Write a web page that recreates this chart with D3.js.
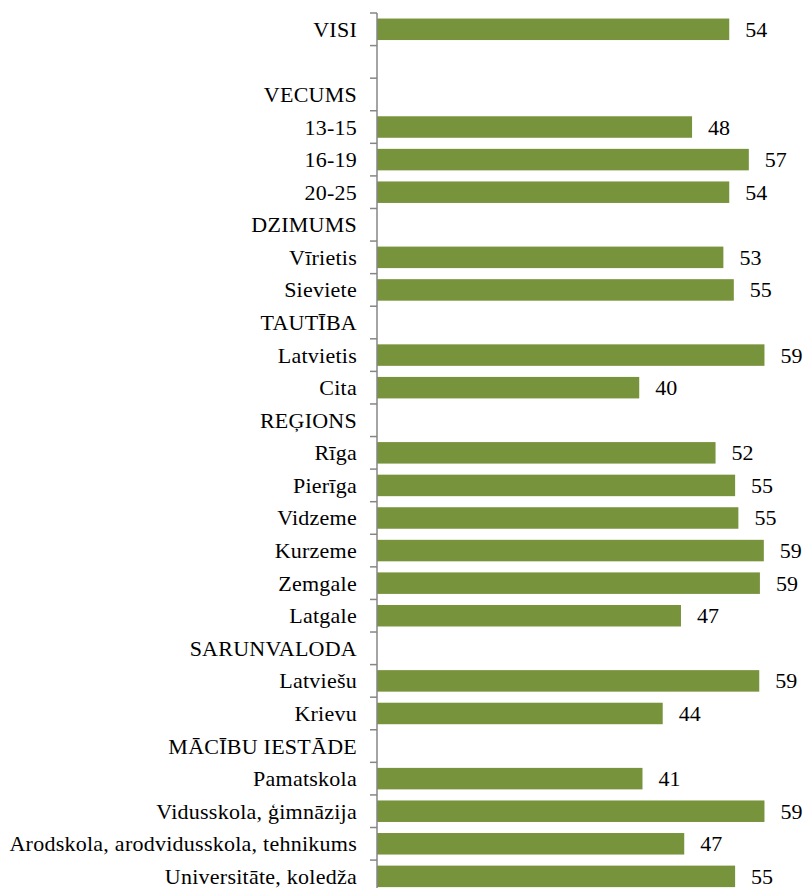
<!DOCTYPE html>
<html><head><meta charset="utf-8">
<script src="https://cdn.jsdelivr.net/npm/d3@7"></script>
<style>body{margin:0;background:#fff}svg{display:block}</style>
</head><body>
<script>
const categories = ["VISI","","VECUMS","13-15","16-19","20-25","DZIMUMS","Vīrietis","Sieviete","TAUTĪBA","Latvietis","Cita","REĢIONS","Rīga","Pierīga","Vidzeme","Kurzeme","Zemgale","Latgale","SARUNVALODA","Latviešu","Krievu","MĀCĪBU IESTĀDE","Pamatskola","Vidusskola, ģimnāzija","Arodskola, arodvidusskola, tehnikums","Universitāte, koledža"];
const values = [54.0,null,null,48.3,57.0,54.0,null,53.1,54.7,null,59.4,40.2,null,51.9,54.9,55.4,59.3,58.7,46.6,null,58.6,43.8,null,40.7,59.4,47.1,54.9];
const xMax = 65;

const W = 806, H = 888;
const margin = {left: 377, right: 5, top: 13};
const step = 32.58;
const plotBottom = margin.top + step * categories.length;

const svg = d3.select("body").append("svg").attr("width", W).attr("height", H);
const font = "'Liberation Serif', serif";
const fs = 22;
const ls = 0.25;

const x = d3.scaleLinear().domain([0, xMax]).range([margin.left, W - margin.right]);
const y = d3.scaleBand().domain(d3.range(categories.length)).range([margin.top, plotBottom]).paddingInner(0.34).paddingOuter(0.17);

const data = categories.map((c, i) => ({c, i, v: values[i]}));

svg.append("g").selectAll("rect").data(data.filter(d => d.v != null)).join("rect")
  .attr("x", x(0)).attr("y", d => y(d.i))
  .attr("width", d => x(d.v) - x(0)).attr("height", y.bandwidth())
  .attr("fill", "#77933C");

svg.append("g").selectAll("text").data(data.filter(d => d.v != null)).join("text")
  .attr("x", d => x(d.v) + 16).attr("y", d => y(d.i) + y.bandwidth() / 2)
  .attr("dy", "0.34em").attr("font-family", font).attr("font-size", fs).attr("fill", "#000")
  .text(d => d3.format(".0f")(d.v));

// category axis
const yAxis = svg.append("g");
yAxis.append("line").attr("x1", x(0)).attr("x2", x(0)).attr("y1", margin.top).attr("y2", plotBottom)
  .attr("stroke", "#868686").attr("stroke-width", 1.5);
const tickYs = d3.range(categories.length + 1).map(i => margin.top + i * step);
yAxis.selectAll("line.tick").data(tickYs).join("line").attr("class", "tick")
  .attr("x1", x(0) - 7).attr("x2", x(0)).attr("y1", d => d).attr("y2", d => d)
  .attr("stroke", "#868686").attr("stroke-width", 1.5);
yAxis.selectAll("text").data(data).join("text")
  .attr("x", x(0) - 20).attr("y", d => y(d.i) + y.bandwidth() / 2)
  .attr("dy", "0.34em").attr("text-anchor", "end")
  .attr("font-family", font).attr("font-size", fs).attr("letter-spacing", ls).attr("fill", "#000")
  .text(d => d.c);
</script>
</body></html>
